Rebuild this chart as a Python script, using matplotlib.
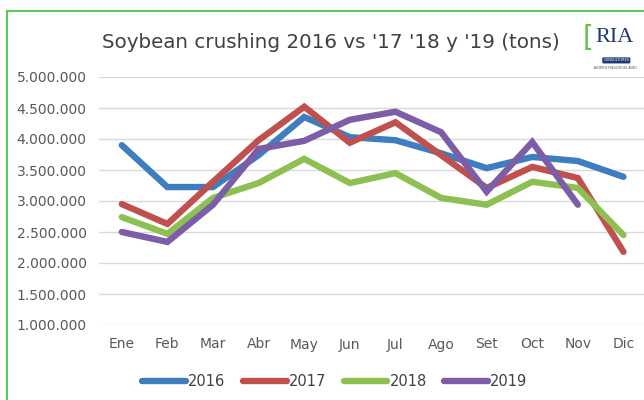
import matplotlib.pyplot as plt
from matplotlib.lines import Line2D
from matplotlib.ticker import FuncFormatter

months = ["Ene", "Feb", "Mar", "Abr", "May", "Jun", "Jul", "Ago", "Set", "Oct", "Nov", "Dic"]
s2016 = [3900000, 3225000, 3225000, 3740000, 4355000, 4030000, 3980000, 3770000, 3530000, 3710000, 3645000, 3390000]
s2017 = [2950000, 2630000, 3310000, 3980000, 4520000, 3940000, 4270000, 3740000, 3210000, 3550000, 3370000, 2180000]
s2018 = [2740000, 2470000, 3050000, 3290000, 3680000, 3290000, 3450000, 3050000, 2940000, 3310000, 3210000, 2450000]
s2019 = [2500000, 2340000, 2940000, 3840000, 3970000, 4310000, 4440000, 4110000, 3150000, 3950000, 2940000]

series = [("2016", s2016, "#3f7dc1"), ("2017", s2017, "#c0504d"),
          ("2018", s2018, "#8cc152"), ("2019", s2019, "#7b5ea7")]

fig = plt.figure(figsize=(6.44, 4.0), dpi=100)
ax = fig.add_axes([99/644, 75/400, 1 - 99/644, 248/400])

for name, vals, col in series:
    ax.plot(range(len(vals)), vals, color=col, lw=4.6, label=name,
            solid_capstyle="round", solid_joinstyle="miter")

ax.set_xlim(-0.5, 11.45)
ax.set_ylim(1000000, 5000000)
ax.set_yticks(range(1000000, 5000001, 500000))
ax.yaxis.set_major_formatter(FuncFormatter(lambda v, p: f"{int(v):,}".replace(",", ".")))
ax.set_xticks(range(12))
ax.set_xticklabels(months)
ax.grid(axis="y", color="#d9d9d9", lw=1)
ax.set_axisbelow(True)
for s in ax.spines.values():
    s.set_visible(False)
ax.tick_params(length=0, labelsize=10, labelcolor="#595959")
ax.tick_params(axis="y", pad=9)
ax.tick_params(axis="x", pad=9)

fig.text(0.514, 0.895, "Soybean crushing 2016 vs '17 '18 y '19 (tons)", ha="center", va="center",
         fontsize=14.3, color="#404040")

# logo
fig.text(0.925, 0.905, "RIA", ha="left", va="center", fontsize=16, family="Liberation Serif",
         color="#1f3a6e")
fig.text(0.905, 0.905, "[", ha="left", va="center", fontsize=20, color="#6abf4b")
fig.text(0.957, 0.849, "CONSULTORES", ha="center", va="center", fontsize=2.5, color="white",
         bbox=dict(boxstyle="round,pad=0.3", fc="#1f3a6e", ec="none"))
fig.text(0.955, 0.829, "ASUNTOS PUBLICOS DEL AGRO", ha="center", va="center", fontsize=2, color="#404040")

# green frame
fig.add_artist(Line2D([7/644, 7/644], [0, 1 - 11/400], color="#5cc85c", lw=1.5))
fig.add_artist(Line2D([7/644, 1], [1 - 11/400, 1 - 11/400], color="#5cc85c", lw=1.5))

fig.legend(loc="center", bbox_to_anchor=(0.52, 0.047), ncol=4, frameon=False, fontsize=10.5,
           handlelength=3.0, handletextpad=0.15, columnspacing=1.2, labelcolor="#404040")

fig.savefig("out.png", dpi=100)
